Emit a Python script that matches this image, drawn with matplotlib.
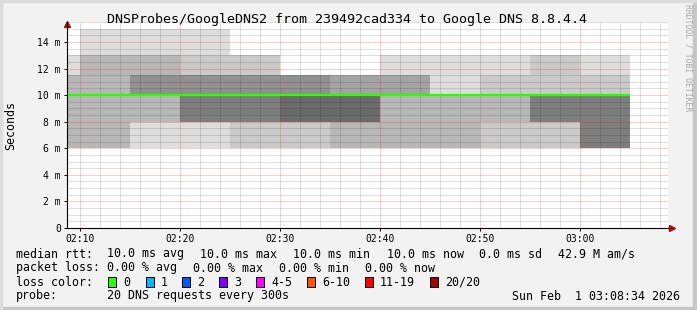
import matplotlib
matplotlib.use("Agg")
import matplotlib.pyplot as plt
import matplotlib.dates as mdates
from matplotlib.patches import Rectangle
from matplotlib.ticker import MultipleLocator
import numpy as np
from datetime import datetime

# 5 minute steps, 20 DNS pings each
step_start = ["02:05", "02:10", "02:15", "02:20", "02:25", "02:30",
              "02:35", "02:40", "02:45", "02:50", "02:55", "03:00"]
# rtt values (ms) seen in the smoke and how many pings hit each one per step
rtt_levels = [6, 8, 10, 11.5, 13, 15]
n_6ms = [3, 3, 1, 1, 2, 2, 3, 3, 3, 2, 2, 6]
n_8ms = [0, 0, 2, 5, 4, 5, 4, 0, 0, 1, 4, 0]
n_10ms = [14, 14, 12, 9, 9, 8, 9, 13, 16, 15, 12, 12]
n_11ms = [2, 0, 2, 3, 3, 5, 4, 3, 0, 1, 0, 1]
n_13ms = [1, 2, 2, 1, 2, 0, 0, 1, 1, 1, 2, 1]
n_15ms = [0, 1, 1, 1, 0, 0, 0, 0, 0, 0, 0, 0]

loss_labels = ["0", "1", "2", "3", "4-5", "6-10", "11-19", "20/20"]
loss_colors = ["#26ff00", "#00b8ff", "#0059ff", "#7e00ff", "#ff00ff",
               "#ff5500", "#ff0000", "#a10000"]

W, H = 697, 310
mono = "DejaVu Sans Mono"
plt.rcParams["font.family"] = mono
plt.rcParams["lines.scale_dashes"] = False

fig = plt.figure(figsize=(W / 100, H / 100), dpi=100, facecolor="#f2f2f2")
ax = fig.add_axes([67 / W, 82 / H, 601 / W, 206 / H])
ax.set_facecolor("white")

base = datetime(2026, 2, 1)
t0 = [mdates.date2num(base.replace(hour=int(s[:2]), minute=int(s[3:]))) for s in step_start]
step = 5 / 1440
counts = np.array([n_6ms, n_8ms, n_10ms, n_11ms, n_13ms, n_15ms])

# smokeping style smoke: band i from ping i to ping 21-i, darker towards the middle
half = 10
for j, t in enumerate(t0):
    pings = np.sort(np.repeat(rtt_levels, counts[:, j]))
    for ibot in range(1, half + 1):
        lo, hi = pings[ibot - 1], pings[20 - ibot]
        if hi <= lo:
            continue
        g = int(190 / half * (half - ibot)) + 50
        ax.bar(t, hi - lo, width=step, bottom=lo, align="edge",
               color="#%02x%02x%02x" % (g, g, g), linewidth=0, zorder=1)
    ax.hlines(np.median(pings), t, t + step, color="#26ff00", lw=1.6, zorder=3)

ax.set_xlim(mdates.date2num(datetime(2026, 2, 1, 2, 8, 42)),
            mdates.date2num(datetime(2026, 2, 1, 3, 8, 48)))
ax.set_ylim(0, 15.5)

ax.xaxis.set_major_locator(mdates.MinuteLocator(byminute=range(0, 60, 10)))
ax.xaxis.set_minor_locator(mdates.MinuteLocator(byminute=range(0, 60, 2)))
ax.xaxis.set_major_formatter(mdates.DateFormatter("%H:%M"))
ax.yaxis.set_major_locator(MultipleLocator(2))
ax.yaxis.set_minor_locator(MultipleLocator(0.5))
ax.yaxis.set_major_formatter(lambda v, p: "0" if v == 0 else "%d m" % v)

ax.set_axisbelow(False)
ax.grid(which="minor", color="black", alpha=0.25, lw=0.72, ls=(0, (0.72, 0.72)))
ax.grid(which="major", color="red", alpha=0.4, lw=0.72, ls=(0, (0.72, 0.72)))
ax.tick_params(which="major", labelsize=7, length=2.5, width=0.72, pad=2, direction="out")
ax.tick_params(which="minor", length=0)

for s in ["top", "right"]:
    ax.spines[s].set_visible(False)
for s in ["left", "bottom"]:
    ax.spines[s].set_linewidth(0.8)
    ax.spines[s].set_zorder(4)

# axis arrows
ax.plot([1, 1.007], [0, 0], transform=ax.transAxes, clip_on=False, color="k", lw=0.8)
ax.plot([1.007], [0], marker=">", ms=4, color="#a01010", transform=ax.transAxes, clip_on=False)
ax.plot([0], [0.99], marker="^", ms=4, color="#a01010", transform=ax.transAxes, clip_on=False)

def ftext(x, y, s, **kw):
    fig.text(x / W, 1 - y / H, s, va="center", **kw)

ftext(347, 19, "DNSProbes/GoogleDNS2 from 239492cad334 to Google DNS 8.8.4.4",
      ha="center", fontsize=9.6)
ftext(11, 125, "Seconds", ha="center", rotation=90, fontsize=8.4)
ftext(688, 58, "RRDTOOL / TOBI OETIKER", ha="center", rotation=270,
      fontsize=5.9, color="#a8a8a8")

fs = 8.4
row1 = [(16, "median rtt:"), (107, "10.0 ms avg"), (200, "10.0 ms max"), (293, "10.0 ms min"),
        (387, "10.0 ms now"), (479, "0.0 ms sd"), (558, "42.9 M am/s")]
row2 = [(16, "packet loss:"), (107, "0.00 % avg"), (193, "0.00 % max"), (279, "0.00 % min"),
        (365, "0.00 % now")]
for x, s in row1:
    ftext(x, 254, s, ha="left", fontsize=fs)
for x, s in row2:
    ftext(x, 268, s, ha="left", fontsize=fs)

ftext(16, 282, "loss color:", ha="left", fontsize=fs)
box_x = [108, 146, 182, 219, 256, 307, 365, 430]
for bx, lab, col in zip(box_x, loss_labels, loss_colors):
    fig.patches.append(Rectangle((bx / W, 1 - 287 / H), 8 / W, 10 / H, facecolor=col,
                                 edgecolor="black", lw=0.72, transform=fig.transFigure))
    ftext(bx + 15, 282, lab, ha="left", fontsize=fs)

ftext(16, 296, "probe:", ha="left", fontsize=fs)
ftext(107, 296, "20 DNS requests every 300s", ha="left", fontsize=fs)
ftext(680, 296, "Sun Feb  1 03:08:34 2026", ha="right", fontsize=fs)

# frame
fig.patches.append(Rectangle((693 / W, 0), 4 / W, 1, color="#c6c6c6", transform=fig.transFigure))
fig.patches.append(Rectangle((0, 0), 1, 3 / H, color="#c6c6c6", transform=fig.transFigure))
fig.patches.append(Rectangle((0, 1 - 2 / H), 1, 2 / H, color="#dcdcdc", transform=fig.transFigure))
fig.patches.append(Rectangle((0, 0), 2 / W, 1, color="#dcdcdc", transform=fig.transFigure))

fig.savefig("out.png", dpi=100, facecolor=fig.get_facecolor())
